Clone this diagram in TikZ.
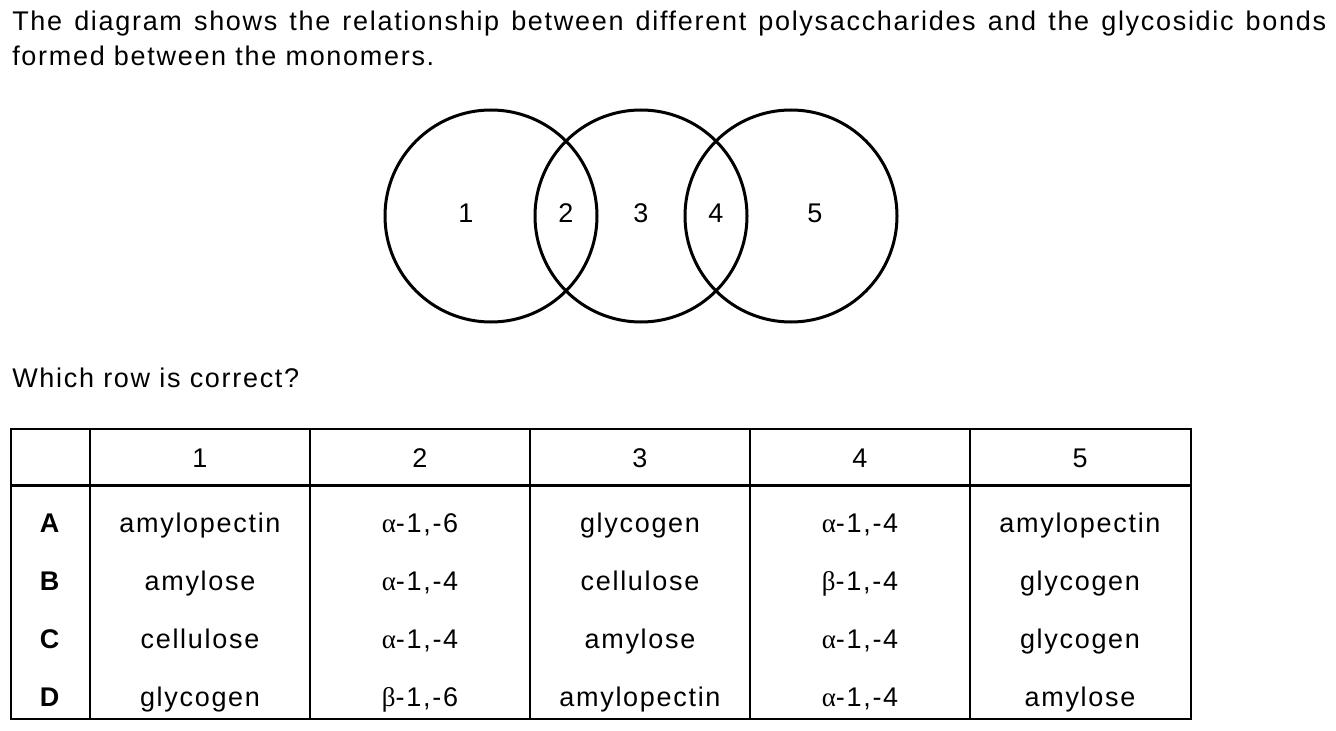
\documentclass[tikz,border=0pt]{standalone}
\usepackage{fontspec}
\setmainfont{Liberation Sans}[LetterSpace=6.3]
\newfontfamily\grk{Liberation Serif}[LetterSpace=6.3]
\newcommand{\galpha}{{\grk α}}
\newcommand{\gbeta}{{\grk β}}

\begin{document}
\begin{tikzpicture}[x=0.75pt,y=-0.75pt,
    txt/.style={font=\fontsize{20.25}{24}\selectfont, inner sep=0pt, anchor=base west},
    cell/.style={font=\fontsize{20.25}{24}\selectfont, inner sep=0pt, anchor=base},
    ring/.style={line width=2.25pt},
    rule/.style={line width=1.5pt}]
    \useasboundingbox (0,0) rectangle (1336,731);

    % question text
    \node[txt] (title1) at (12,31) {\hbox to 985.5pt{The diagram shows the relationship between different polysaccharides and the glycosidic bonds}};
    \node[txt] (title2) at (12,66) {formed between the monomers.};
    \node[txt] (question) at (12,387) {Which row is correct?};

    % venn diagram
    \coordinate (c1) at (491,216);
    \coordinate (c2) at (641,216);
    \coordinate (c3) at (791,216);
    \foreach \c in {c1,c2,c3}
        \draw[ring] (\c) circle (106);
    \foreach \n/\x in {1/466,2/566,3/641,4/716,5/815}
        \node[cell] (region\n) at (\x,223) {\n};

    % table
    \draw[rule] (11,429) rectangle (1191,719);
    \foreach \x in {90,310,530,750,970}
        \draw[rule] (\x,429) -- (\x,719);
    \draw[line width=2.25pt] (11,485.5) -- (1191,485.5);
    \foreach \n/\x in {1/200,2/420,3/640,4/860,5/1080}
        \node[cell] (head\n) at (\x,467) {\n};
    \foreach \r/\y/\ca/\cb/\cc/\cd/\ce in {
        A/532/amylopectin/{\galpha-1,-6}/glycogen/{\galpha-1,-4}/amylopectin,
        B/590/amylose/{\galpha-1,-4}/cellulose/{\gbeta-1,-4}/glycogen,
        C/648/cellulose/{\galpha-1,-4}/amylose/{\galpha-1,-4}/glycogen,
        D/706/glycogen/{\gbeta-1,-6}/amylopectin/{\galpha-1,-4}/amylose} {
        \node[cell] (row\r) at (50.5,\y) {\textbf{\r}};
        \node[cell] (\r1) at (200,\y) {\ca};
        \node[cell] (\r2) at (420,\y) {\cb};
        \node[cell] (\r3) at (640,\y) {\cc};
        \node[cell] (\r4) at (860,\y) {\cd};
        \node[cell] (\r5) at (1080,\y) {\ce};
    }
\end{tikzpicture}
\end{document}
